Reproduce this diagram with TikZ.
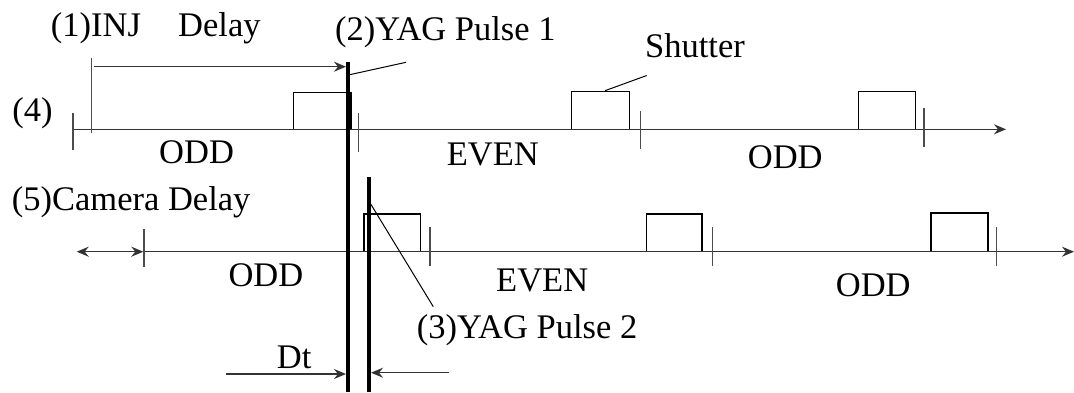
\documentclass[tikz,border=0pt]{standalone}
\usepackage{fontspec}
\setmainfont{Liberation Serif}
\usetikzlibrary{arrows.meta}
\begin{document}
\begin{tikzpicture}[x=1pt,y=-1pt,
  lbl/.style={anchor=base west,inner sep=0pt,font=\fontsize{34.5}{40}\selectfont},
  axisline/.style={draw=black!80,line width=1.3pt},
  tickline/.style={draw=black!70,line width=1.2pt},
  shutterbox/.style={draw=black,line width=1.1pt},
  pulse/.style={draw=black,line width=4.2pt},
  leader/.style={draw=black,line width=1pt},
  tip/.style={-{Stealth[length=12pt,width=10pt,inset=4pt]}},
  dtip/.style={{Stealth[length=12pt,width=10pt,inset=4pt]}-{Stealth[length=12pt,width=10pt,inset=4pt]}}]
\useasboundingbox (0,0) rectangle (1074,392);
% labels
\node[lbl] (inj) at (50.7,36) {(1)INJ\hspace{37.3pt}Delay};
\node[lbl] (yag1) at (335,40) {(2)YAG Pulse 1};
\node[lbl] (shut) at (645,57.5) {Shutter};
\node[lbl] (four) at (12.3,121.7) {(4)};
\node[lbl] (odd1) at (159,163.3) {ODD};
\node[lbl] (even1) at (446.7,165) {EVEN};
\node[lbl] (odd2) at (747.7,168.3) {ODD};
\node[lbl] (five) at (11.7,210.7) {(5)Camera Delay};
\node[lbl] (odd3) at (228.3,286) {ODD};
\node[lbl] (even2) at (496,291) {EVEN};
\node[lbl] (odd4) at (835.7,296) {ODD};
\node[lbl] (yag2) at (416.7,338.3) {(3)YAG Pulse 2};
\node[lbl] (dt) at (276.7,368.3) {Dt};
% coordinates
\coordinate (a1s) at (73,129.3);
\coordinate (a1e) at (1006,129.3);
\coordinate (a2s) at (144,251.7);
\coordinate (a2e) at (1074,251.7);
\coordinate (cds) at (76.7,251.7);
\coordinate (cde) at (143.3,251.7);
\coordinate (injt) at (91.7,58);
\coordinate (injb) at (91.7,133.3);
\coordinate (dls) at (94.3,66.7);
\coordinate (dle) at (346,66.7);
\coordinate (p1t) at (348,61.7);
\coordinate (p1b) at (348,392);
\coordinate (p2t) at (369,177.3);
\coordinate (p2b) at (369,392);
\coordinate (l1a) at (348.3,75);
\coordinate (l1b) at (406,62.3);
\coordinate (lsa) at (605,90.7);
\coordinate (lsb) at (646.7,75.5);
\coordinate (l2a) at (370.7,204);
\coordinate (l2b) at (433.3,306.7);
\coordinate (dt1s) at (226,374);
\coordinate (dt1e) at (346,374);
\coordinate (dt2s) at (449.3,372.7);
\coordinate (dt2e) at (371,372.7);
% shutter boxes
\draw[shutterbox] (293.3,92.3) rectangle (351,129.3);
\draw[shutterbox] (571.7,91.7) rectangle (629.3,129.3);
\draw[shutterbox] (858.3,91.7) rectangle (915.3,129.3);
\draw[shutterbox] (364,214) rectangle (420.7,251.7);
\draw[shutterbox] (646.3,214) rectangle (702,251.7);
\draw[shutterbox] (931,213) rectangle (988,251.3);
% axes
\draw[axisline,tip] (a1s) -- (a1e);
\draw[axisline,tip] (a2s) -- (a2e);
\draw[axisline,dtip] (cds) -- (cde);
% ticks
\draw[tickline] (73,112.7) -- (73,150);
\draw[tickline] (358.3,112.7) -- (358.3,151.7);
\draw[tickline] (640.7,111) -- (640.7,149.3);
\draw[tickline] (924,107.7) -- (924,147);
\draw[tickline] (144,229.3) -- (144,267.3);
\draw[tickline] (430,227.3) -- (430,266);
\draw[tickline] (712.7,227.3) -- (712.7,266.3);
\draw[tickline] (996.3,227.3) -- (996.3,266.3);
% INJ delay
\draw[tickline] (injt) -- (injb);
\draw[axisline,tip] (dls) -- (dle);
% pulses
\draw[pulse] (p1t) -- (p1b);
\draw[pulse] (p2t) -- (p2b);
% leaders
\draw[leader] (l1a) -- (l1b);
\draw[leader] (lsa) -- (lsb);
\draw[leader] (l2a) -- (l2b);
% Dt arrows
\draw[axisline,tip] (dt1s) -- (dt1e);
\draw[axisline,tip] (dt2s) -- (dt2e);
\end{tikzpicture}
\end{document}
